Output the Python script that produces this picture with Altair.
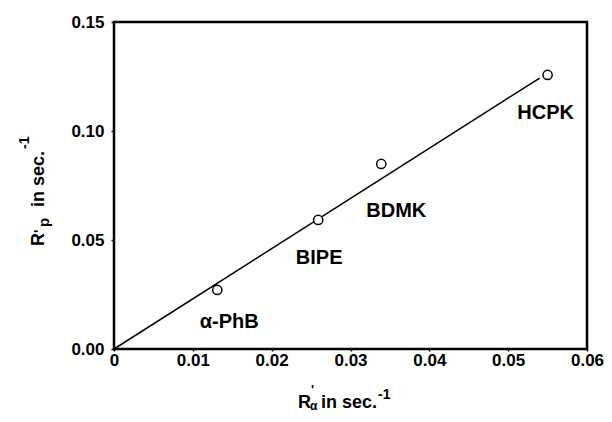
import altair as alt
import pandas as pd

# data
compounds = ["α-PhB", "BIPE", "BDMK", "HCPK"]
r_alpha = [0.0131, 0.0259, 0.0339, 0.0550]
r_p = [0.0271, 0.0592, 0.0849, 0.1257]
fit_x = [0.0, 0.0540]
fit_y = [0.0, 0.1243]
x_ticks = [0, 0.01, 0.02, 0.03, 0.04, 0.05, 0.06]
y_ticks = [0.0, 0.05, 0.10, 0.15]

pts = pd.DataFrame({"name": compounds, "x": r_alpha, "y": r_p})
fit = pd.DataFrame({"x": fit_x, "y": fit_y})

FONT = "Liberation Sans"
W, H = 473, 327

xs = alt.Scale(domain=[0, 0.06], nice=False, zero=False)
ys = alt.Scale(domain=[0, 0.15], nice=False, zero=False)

xaxis = alt.Axis(values=x_ticks, title=None, grid=False, domain=False,
                 labelExpr="datum.value == 0 ? '0' : format(datum.value, '.2f')",
                 labelFont=FONT, labelFontSize=17, labelFontWeight="bold",
                 labelColor="black", tickColor="black", tickSize=2, tickWidth=1.5,
                 labelPadding=1, labelFlush=False)
yaxis = alt.Axis(values=y_ticks, title=None, grid=False, domain=False, format=".2f",
                 labelFont=FONT, labelFontSize=17, labelFontWeight="bold",
                 labelColor="black", tickColor="black", tickSize=3, tickWidth=1.5,
                 labelPadding=7, labelFlush=False)

frame = alt.Chart(pd.DataFrame({"k": [0]})).mark_rect(
    fill=None, stroke="black", strokeWidth=2.5
).encode(x=alt.value(0), x2=alt.value(W), y=alt.value(0), y2=alt.value(H))

line = alt.Chart(fit).mark_line(color="black", strokeWidth=1.5).encode(
    x=alt.X("x:Q", scale=xs, axis=xaxis),
    y=alt.Y("y:Q", scale=ys, axis=yaxis),
)

circles = alt.Chart(pts).mark_point(shape="circle", size=85, filled=True, fill="white",
                                    stroke="black", strokeWidth=1.5, opacity=1).encode(
    x=alt.X("x:Q", scale=xs), y=alt.Y("y:Q", scale=ys))

offsets = {"α-PhB": (12, 32), "BIPE": (1, 38), "BDMK": (15, 47), "HCPK": (-2, 38)}
labels = []
for name, (dx, dy) in offsets.items():
    labels.append(
        alt.Chart(pts).transform_filter(alt.datum.name == name)
        .mark_text(font=FONT, fontSize=20, fontWeight="bold", color="black",
                   dx=dx, dy=dy, align="center", baseline="middle")
        .encode(x=alt.X("x:Q", scale=xs), y=alt.Y("y:Q", scale=ys), text="name:N"))

# axis titles built from pieces (plot-area pixel coordinates)
def piece(txt, x, y, size, angle=0):
    return alt.Chart(pd.DataFrame({"t": [txt]})).mark_text(
        font=FONT, fontSize=size, fontWeight="bold", color="black",
        align="left", baseline="alphabetic", angle=angle
    ).encode(x=alt.value(x), y=alt.value(y), text="t:N")

ox, oy = 114, 22
xt = [
    piece("R", 298 - ox, 408 - oy, 18),
    piece("'", 311 - ox, 394 - oy, 13),
    piece("α", 310 - ox, 410 - oy, 12),
    piece("in sec.", 321 - ox, 408 - oy, 18),
    piece("-1", 378 - ox, 399 - oy, 14),
]
yt = [
    piece("R", 44 - ox, 246 - oy, 18, 270),
    piece("'", 44 - ox, 233 - oy, 14, 270),
    piece("p", 49 - ox, 227 - oy, 15, 270),
    piece("in sec.", 44 - ox, 207 - oy, 18, 270),
    piece("-1", 29 - ox, 149 - oy, 14, 270),
]

chart = alt.layer(frame, line, circles, *labels, *xt, *yt).properties(
    width=W, height=H,
    autosize=alt.AutoSizeParams(type="none"),
    padding={"left": 106, "top": 14, "right": 596 - 106 - W, "bottom": 65},
).configure_view(stroke=None).configure(background="white")

chart.save("out.html", embed_options={"renderer": "svg", "actions": False})
